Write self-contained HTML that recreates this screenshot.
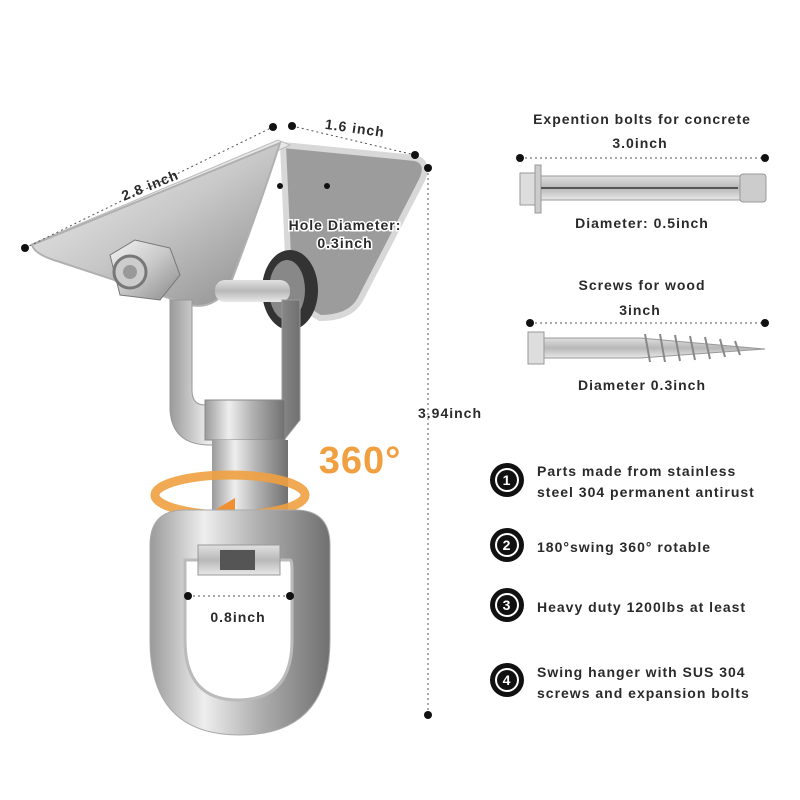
<!DOCTYPE html>
<html><head><style>
html,body{margin:0;padding:0;background:#fff;}
svg{display:block;}
text{font-family:"Liberation Sans",sans-serif;font-weight:bold;fill:#2a2a2a;letter-spacing:1px;}
</style></head><body>
<svg width="800" height="800" viewBox="0 0 800 800" xmlns="http://www.w3.org/2000/svg">
<defs>
<linearGradient id="m1" x1="0" y1="0" x2="1" y2="1"><stop offset="0" stop-color="#f4f4f4"/><stop offset="0.5" stop-color="#c8c8c8"/><stop offset="1" stop-color="#8a8a8a"/></linearGradient>
<linearGradient id="m2" x1="0" y1="0" x2="1" y2="0"><stop offset="0" stop-color="#9a9a9a"/><stop offset="0.3" stop-color="#eeeeee"/><stop offset="0.6" stop-color="#b0b0b0"/><stop offset="1" stop-color="#707070"/></linearGradient>
<linearGradient id="m3" x1="0" y1="0" x2="0" y2="1"><stop offset="0" stop-color="#e0e0e0"/><stop offset="0.5" stop-color="#b8b8b8"/><stop offset="1" stop-color="#e8e8e8"/></linearGradient>
</defs>
<path d="M283,145 L415,158 Q430,162 422,180 L360,300 Q350,318 320,318 L290,300 Z" fill="#9c9c9c" stroke="#d8d8d8" stroke-width="6"/>
<path d="M32,244 L278,140 L290,145 L60,250 Z" fill="#e8e8e8" stroke="#bbb"/>
<path d="M32,245 L280,143 Q262,200 230,285 Q215,310 190,305 L60,262 Q35,255 32,245 Z" fill="url(#m1)" stroke="#b0b0b0" stroke-width="2"/>
<ellipse cx="290" cy="290" rx="28" ry="40" fill="#333"/>
<ellipse cx="287" cy="290" rx="18" ry="30" fill="#888"/>
<rect x="215" y="280" width="75" height="22" rx="10" fill="url(#m3)"/>
<polygon points="110,255 135,240 170,248 180,275 160,300 120,295" fill="url(#m1)" stroke="#777"/>
<circle cx="130" cy="272" r="16" fill="#ccc" stroke="#777" stroke-width="3"/>
<circle cx="130" cy="272" r="7" fill="#999"/>
<path d="M170,300 L170,410 Q172,445 210,445 L280,445 L300,420 L300,300 L282,300 L282,405 L205,405 Q192,405 192,390 L192,300 Z" fill="url(#m2)" stroke="#999"/>
<rect x="205" y="400" width="80" height="40" fill="url(#m2)" stroke="#888"/>
<rect x="212" y="440" width="76" height="100" fill="url(#m2)"/>
<ellipse cx="230" cy="495" rx="75" ry="20" fill="none" stroke="#f0a040" stroke-width="9" opacity="0.9"/>
<polygon points="215,510 235,498 235,522" fill="#f09030"/>
<path d="M150,545 Q150,510 185,510 L295,510 Q330,510 330,545 L330,640 Q330,735 240,735 Q150,735 150,640 Z" fill="url(#m2)" stroke="#aaa"/>
<path d="M185,560 L290,560 Q292,560 292,570 L292,640 Q292,700 238,700 Q185,700 185,640 L185,570 Z" fill="#fff" stroke="#bbb" stroke-width="3"/>
<rect x="198" y="545" width="82" height="30" fill="url(#m3)" stroke="#999"/>
<rect x="220" y="550" width="35" height="20" fill="#555"/>
<g stroke="#555" stroke-width="1" stroke-dasharray="2,3" fill="none">
<line x1="25" y1="248" x2="273" y2="127"/>
<line x1="292" y1="126" x2="415" y2="155"/>
<line x1="428" y1="168" x2="428" y2="715"/>
<line x1="188" y1="596" x2="290" y2="596"/>
<line x1="520" y1="158" x2="765" y2="158"/>
<line x1="530" y1="323" x2="765" y2="323"/>
</g>
<g fill="#111">
<circle cx="25" cy="248" r="4"/><circle cx="273" cy="127" r="4"/>
<circle cx="292" cy="126" r="4"/><circle cx="415" cy="155" r="4"/>
<circle cx="428" cy="168" r="4"/><circle cx="428" cy="715" r="4"/>
<circle cx="188" cy="596" r="4"/><circle cx="290" cy="596" r="4"/>
<circle cx="520" cy="158" r="4"/><circle cx="765" cy="158" r="4"/>
<circle cx="530" cy="323" r="4"/><circle cx="765" cy="323" r="4"/>
<circle cx="327" cy="186" r="3"/><circle cx="280" cy="186" r="3"/>
</g>
<text x="150" y="190" font-size="14" text-anchor="middle" transform="rotate(-22 150 185)">2.8 inch</text>
<text x="355" y="133" font-size="14" text-anchor="middle" transform="rotate(8 355 128)">1.6 inch</text>
<text x="345" y="230" font-size="14" text-anchor="middle" stroke="#fff" stroke-width="3" paint-order="stroke">Hole Diameter:</text>
<text x="345" y="248" font-size="14" text-anchor="middle" stroke="#fff" stroke-width="3" paint-order="stroke">0.3inch</text>
<text x="450" y="418" font-size="14" text-anchor="middle">3.94inch</text>
<text x="360" y="473" font-size="38" text-anchor="middle" style="fill:#f0a040">360°</text>
<text x="238" y="622" font-size="14" text-anchor="middle">0.8inch</text>
<rect x="520" y="173" width="20" height="32" fill="#ddd" stroke="#999"/>
<rect x="535" y="165" width="6" height="48" fill="#ccc" stroke="#999"/>
<rect x="541" y="176" width="205" height="24" fill="url(#m3)" stroke="#999"/>
<line x1="541" y1="188" x2="738" y2="188" stroke="#555" stroke-width="2"/>
<rect x="740" y="174" width="26" height="28" rx="3" fill="#ccc" stroke="#999"/>
<text x="642" y="124" font-size="14" text-anchor="middle">Expention bolts for concrete</text>
<text x="640" y="148" font-size="14" text-anchor="middle">3.0inch</text>
<text x="642" y="228" font-size="14" text-anchor="middle">Diameter: 0.5inch</text>
<rect x="528" y="332" width="16" height="32" fill="#ddd" stroke="#999"/>
<polygon points="544,338 640,338 765,349 640,358 544,358" fill="url(#m3)" stroke="#999"/>
<g stroke="#888" stroke-width="2">
<line x1="645" y1="334" x2="650" y2="362"/><line x1="660" y1="334" x2="665" y2="362"/><line x1="675" y1="335" x2="680" y2="361"/><line x1="690" y1="336" x2="695" y2="360"/><line x1="705" y1="337" x2="710" y2="359"/><line x1="720" y1="339" x2="725" y2="357"/><line x1="735" y1="341" x2="740" y2="355"/>
</g>
<text x="642" y="290" font-size="14" text-anchor="middle">Screws for wood</text>
<text x="640" y="315" font-size="14" text-anchor="middle">3inch</text>
<text x="642" y="390" font-size="14" text-anchor="middle">Diameter 0.3inch</text>
<g>
<circle cx="507" cy="480" r="17" fill="#111"/><circle cx="507" cy="480" r="12" fill="#fff"/><circle cx="507" cy="480" r="10" fill="#111"/>
<text x="507" y="485" font-size="14" text-anchor="middle" style="fill:#fff" letter-spacing="0">1</text>
<circle cx="507" cy="545" r="17" fill="#111"/><circle cx="507" cy="545" r="12" fill="#fff"/><circle cx="507" cy="545" r="10" fill="#111"/>
<text x="507" y="550" font-size="14" text-anchor="middle" style="fill:#fff" letter-spacing="0">2</text>
<circle cx="507" cy="605" r="17" fill="#111"/><circle cx="507" cy="605" r="12" fill="#fff"/><circle cx="507" cy="605" r="10" fill="#111"/>
<text x="507" y="610" font-size="14" text-anchor="middle" style="fill:#fff" letter-spacing="0">3</text>
<circle cx="507" cy="680" r="17" fill="#111"/><circle cx="507" cy="680" r="12" fill="#fff"/><circle cx="507" cy="680" r="10" fill="#111"/>
<text x="507" y="685" font-size="14" text-anchor="middle" style="fill:#fff" letter-spacing="0">4</text>
</g>
<g font-size="14">
<text x="537" y="476">Parts made from stainless</text>
<text x="537" y="497">steel 304 permanent antirust</text>
<text x="537" y="552">180°swing  360° rotable</text>
<text x="537" y="612">Heavy duty 1200lbs at least</text>
<text x="537" y="677">Swing hanger with SUS 304</text>
<text x="537" y="698">screws and expansion bolts</text>
</g>
</svg>
</body></html>
